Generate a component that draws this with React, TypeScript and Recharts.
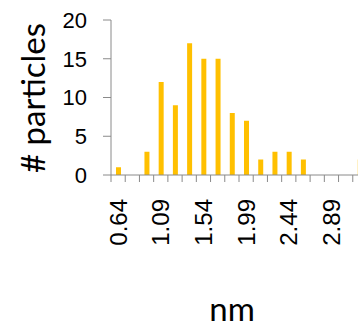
import { BarChart, Bar, XAxis, YAxis, Label } from 'recharts';

// particle size histogram (bin centre in nm -> count)
const sizeBins = ['0.64', '0.79', '0.94', '1.09', '1.24', '1.39', '1.54', '1.69', '1.84', '1.99', '2.14', '2.29', '2.44', '2.59', '2.74', '2.89', '3.04', '3.19'];
const particleCounts = [1, 0, 3, 12, 9, 17, 15, 15, 8, 7, 2, 3, 3, 2, 0, 0, 0, 2];
const countTicks = [0, 5, 10, 15, 20];
const labelledBins = ['0.64', '1.09', '1.54', '1.99', '2.44', '2.89'];

const data = sizeBins.map((bin, i) => ({ bin, count: particleCounts[i] }));

const CHART_W = 367;
const CHART_H = 327;
const AXIS_W = 111;
const TOP = 20;
const X_AXIS_H = 152;
const PLOT_BOTTOM = CHART_H - X_AXIS_H;
const BAND = (CHART_W - AXIS_W) / sizeBins.length;
const AXIS_GREY = '#8a8a8a';
const TICK_FONT = '"Liberation Sans", Arial, sans-serif';
const TITLE_FONT = 'Lato, "Open Sans", sans-serif';

// ticks sit on the bin boundaries, labels only on every third bin
const BinTick = (props: any) => {
    const { x, payload } = props;
    const edge = x - BAND / 2;
    const showLabel = labelledBins.includes(payload.value);
    const ly = PLOT_BOTTOM + 24;
    return (
        <g>
            <line x1={edge} y1={PLOT_BOTTOM} x2={edge} y2={PLOT_BOTTOM + 7} stroke={AXIS_GREY} strokeWidth={1} />
            {showLabel && (
                <text
                    x={x}
                    y={ly}
                    transform={`rotate(-90 ${x} ${ly})`}
                    textAnchor="end"
                    dominantBaseline="central"
                    fontSize={24}
                    fontFamily={TICK_FONT}
                    fill="#000"
                >
                    {payload.value}
                </text>
            )}
        </g>
    );
};

const NmTitle = () => (
    <text x={232} y={321} textAnchor="middle" fontSize={33} fontFamily={TITLE_FONT} fill="#000">
        nm
    </text>
);

const CountTitle = () => (
    <text x={32} y={98} transform="rotate(-90 32 98)" textAnchor="middle" dominantBaseline="central" fontSize={33} fontFamily={TITLE_FONT} fill="#000">
        # particles
    </text>
);

export default function App() {
    return (
        <div style={{ position: 'absolute', left: 0, top: 0, width: 358, height: 327, overflow: 'hidden', background: '#fff' }}>
            <BarChart width={CHART_W} height={CHART_H} data={data} margin={{ top: TOP, right: 0, bottom: 0, left: 0 }}>
                <XAxis
                    dataKey="bin"
                    height={X_AXIS_H}
                    interval={0}
                    tickLine={false}
                    axisLine={{ stroke: AXIS_GREY, strokeWidth: 1 }}
                    tick={<BinTick />}
                >
                    <Label content={<NmTitle />} />
                </XAxis>
                <YAxis
                    width={AXIS_W}
                    domain={[0, 20]}
                    ticks={countTicks}
                    interval={0}
                    tickSize={8}
                    tickMargin={16}
                    tickLine={{ stroke: AXIS_GREY }}
                    axisLine={{ stroke: AXIS_GREY, strokeWidth: 1 }}
                    tick={{ fill: '#000', fontSize: 22, fontFamily: TICK_FONT }}
                >
                    <Label content={<CountTitle />} />
                </YAxis>
                <Bar dataKey="count" fill="#FFC000" barSize={5} isAnimationActive={false} />
            </BarChart>
        </div>
    );
}
